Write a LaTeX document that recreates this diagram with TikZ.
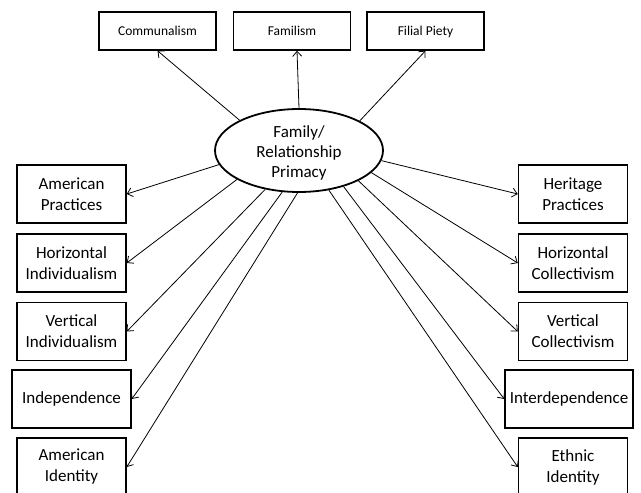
\documentclass[tikz,border=0pt]{standalone}
\usepackage{fontspec}
\setmainfont{Carlito}
\usetikzlibrary{arrows.meta,shapes.geometric}
\begin{document}
\begin{tikzpicture}[x=1pt,y=-1pt,
  topbox/.style={draw,line width=1.5pt,minimum width=117pt,minimum height=38pt,inner sep=0pt,text height=9.5pt,text depth=0pt,font=\fontsize{13.5}{16}\selectfont},
  sidebox/.style={draw,line width=1.5pt,minimum width=109pt,minimum height=58pt,inner sep=0pt,align=center,font=\fontsize{17}{21}\selectfont},
  widebox/.style={sidebox,minimum width=119pt},
  latent/.style={draw,ellipse,line width=1.8pt,minimum width=168pt,minimum height=83pt,inner sep=0pt,align=center,font=\fontsize{17}{20}\selectfont},
  arr/.style={-{Straight Barb[length=5pt,width=9pt]},line width=0.8pt}]
\useasboundingbox (0,0) rectangle (641,493);
\clip (0,0) rectangle (641,493);
\node[latent] (e) at (299,150.5) {};
\node[align=center,inner sep=0pt,font=\fontsize{17}{20}\selectfont] (et) at (299,152.5) {Family/\\Relationship\\Primacy};
\node[topbox] (com) at (157.5,31) {Communalism};
\node[topbox] (fam) at (292,31) {Familism};
\node[topbox] (fil) at (425.5,31) {Filial Piety};
\node[sidebox] (ap) at (71.5,194) {American\\Practices};
\node[sidebox] (hi) at (71.5,263) {Horizontal\\Individualism};
\node[sidebox] (vi) at (71.5,331.5) {Vertical\\Individualism};
\node[widebox,text height=12pt,text depth=3.5pt] (ind) at (71.5,399) {Independence};
\node[sidebox] (aid) at (71.5,467) {American\\Identity};
\node[sidebox] (hp) at (573,194) {Heritage\\Practices};
\node[sidebox] (hc) at (573,263) {Horizontal\\Collectivism};
\node[sidebox] (vc) at (573,331.5) {Vertical\\Collectivism};
\node[sidebox,minimum width=128pt,text height=12pt,text depth=3.5pt] (int) at (569,399) {Interdependence};
\node[sidebox] (eid) at (573,467) {Ethnic\\Identity};
\coordinate (famend) at ([xshift=5pt]fam.south);
\draw[arr] (e.153.8) -- (com.south);
\draw[arr] (e.north) -- (famend);
\draw[arr] (e.26.6) -- (fil.south);
\draw[arr] (e.190.5) -- (ap.east);
\draw[arr] (e.205.4) -- (hi.east);
\draw[arr] (e.229.9) -- (vi.east);
\draw[arr] (e.248.7) -- (ind.east);
\draw[arr] (e.268.6) -- (aid.east);
\draw[arr] (e.353.8) -- (hp.west);
\draw[arr] (e.343.4) -- (hc.west);
\draw[arr] (e.333.8) -- (vc.west);
\draw[arr] (e.321.5) -- (int.west);
\draw[arr] (e.307.8) -- (eid.west);
\end{tikzpicture}
\end{document}
